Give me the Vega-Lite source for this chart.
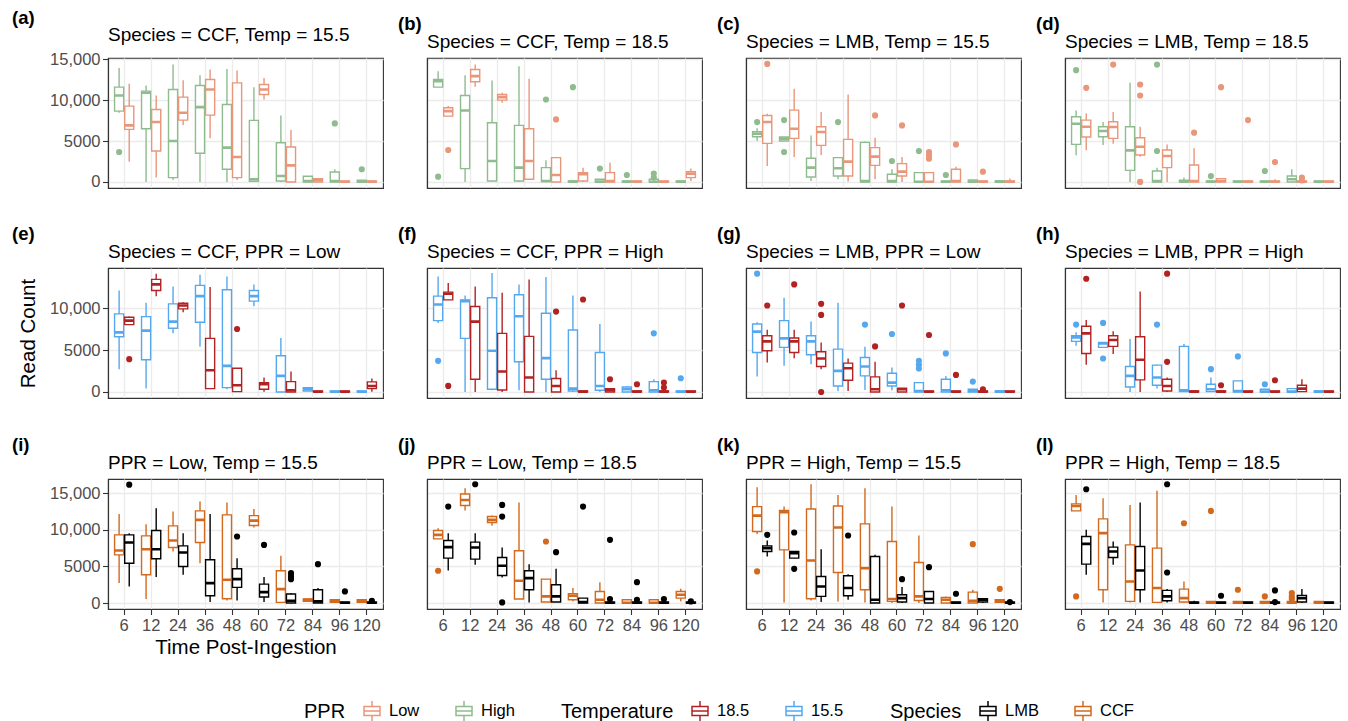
{
"$schema": "https://vega.github.io/schema/vega-lite/v6.json",
"padding": {"left": 12, "top": 8, "right": 2, "bottom": 2},
"datasets": {
"boxes": [
{"p":"a","t":6,"g":"High","lo":8450,"q1":8660,"md":10570,"q3":11590,"hi":13940},
{"p":"a","t":6,"g":"Low","lo":2480,"q1":6420,"md":6910,"q3":9270,"hi":11990},
{"p":"a","t":12,"g":"High","lo":0,"q1":6500,"md":10900,"q3":11100,"hi":11790},
{"p":"a","t":12,"g":"Low","lo":530,"q1":3780,"md":7320,"q3":8860,"hi":10570},
{"p":"a","t":24,"g":"High","lo":240,"q1":530,"md":5000,"q3":11300,"hi":14350},
{"p":"a","t":24,"g":"Low","lo":6950,"q1":7560,"md":8450,"q3":10370,"hi":12440},
{"p":"a","t":36,"g":"High","lo":0,"q1":3500,"md":9150,"q3":11790,"hi":13050},
{"p":"a","t":36,"g":"Low","lo":5330,"q1":8170,"md":11300,"q3":12520,"hi":13740},
{"p":"a","t":48,"g":"High","lo":0,"q1":1550,"md":4190,"q3":9470,"hi":13820},
{"p":"a","t":48,"g":"Low","lo":240,"q1":530,"md":3050,"q3":12110,"hi":13620},
{"p":"a","t":60,"g":"High","lo":0,"q1":80,"md":330,"q3":7520,"hi":11590},
{"p":"a","t":60,"g":"Low","lo":10080,"q1":10690,"md":11300,"q3":11910,"hi":12720},
{"p":"a","t":72,"g":"High","lo":0,"q1":120,"md":730,"q3":4800,"hi":8130},
{"p":"a","t":72,"g":"Low","lo":0,"q1":0,"md":2030,"q3":4270,"hi":6340},
{"p":"a","t":84,"g":"High","lo":0,"q1":0,"md":120,"q3":690,"hi":730},
{"p":"a","t":84,"g":"Low","lo":0,"q1":0,"md":200,"q3":410,"hi":410},
{"p":"a","t":96,"g":"High","lo":0,"q1":0,"md":120,"q3":1220,"hi":1550},
{"p":"a","t":96,"g":"Low","lo":0,"q1":0,"md":30,"q3":120,"hi":120},
{"p":"a","t":120,"g":"High","lo":0,"q1":0,"md":40,"q3":200,"hi":200},
{"p":"a","t":120,"g":"Low","lo":0,"q1":0,"md":30,"q3":120,"hi":120},
{"p":"b","t":6,"g":"High","lo":11590,"q1":11590,"md":12320,"q3":12520,"hi":13540},
{"p":"b","t":6,"g":"Low","lo":8050,"q1":8050,"md":8660,"q3":9070,"hi":9270},
{"p":"b","t":12,"g":"High","lo":0,"q1":1630,"md":8740,"q3":10570,"hi":13050},
{"p":"b","t":12,"g":"Low","lo":11630,"q1":12240,"md":12930,"q3":13740,"hi":14350},
{"p":"b","t":24,"g":"High","lo":120,"q1":120,"md":2560,"q3":7240,"hi":12400},
{"p":"b","t":24,"g":"Low","lo":9680,"q1":10000,"md":10370,"q3":10690,"hi":10890},
{"p":"b","t":36,"g":"High","lo":0,"q1":120,"md":1750,"q3":6910,"hi":14150},
{"p":"b","t":36,"g":"Low","lo":240,"q1":330,"md":2560,"q3":6500,"hi":12600},
{"p":"b","t":48,"g":"High","lo":0,"q1":40,"md":120,"q3":1750,"hi":2640},
{"p":"b","t":48,"g":"Low","lo":0,"q1":0,"md":850,"q3":2970,"hi":2970},
{"p":"b","t":60,"g":"High","lo":0,"q1":0,"md":40,"q3":120,"hi":120},
{"p":"b","t":60,"g":"Low","lo":0,"q1":120,"md":940,"q3":1140,"hi":1750},
{"p":"b","t":72,"g":"High","lo":0,"q1":0,"md":40,"q3":330,"hi":330},
{"p":"b","t":72,"g":"Low","lo":0,"q1":0,"md":120,"q3":1140,"hi":2360},
{"p":"b","t":84,"g":"High","lo":0,"q1":0,"md":30,"q3":120,"hi":120},
{"p":"b","t":84,"g":"Low","lo":0,"q1":0,"md":30,"q3":120,"hi":120},
{"p":"b","t":96,"g":"High","lo":0,"q1":0,"md":30,"q3":330,"hi":330},
{"p":"b","t":96,"g":"Low","lo":0,"q1":0,"md":30,"q3":120,"hi":120},
{"p":"b","t":120,"g":"High","lo":0,"q1":0,"md":30,"q3":120,"hi":120},
{"p":"b","t":120,"g":"Low","lo":120,"q1":530,"md":1020,"q3":1260,"hi":1630},
{"p":"c","t":6,"g":"High","lo":5000,"q1":5530,"md":5890,"q3":6140,"hi":6550},
{"p":"c","t":6,"g":"Low","lo":1950,"q1":4720,"md":7320,"q3":8130,"hi":8330},
{"p":"c","t":12,"g":"High","lo":5000,"q1":5000,"md":5290,"q3":5490,"hi":5490},
{"p":"c","t":12,"g":"Low","lo":3050,"q1":5330,"md":6500,"q3":8780,"hi":11380},
{"p":"c","t":24,"g":"High","lo":120,"q1":610,"md":1750,"q3":2890,"hi":5690},
{"p":"c","t":24,"g":"Low","lo":3290,"q1":4470,"md":6100,"q3":6750,"hi":8540},
{"p":"c","t":36,"g":"High","lo":330,"q1":730,"md":1670,"q3":2970,"hi":2970},
{"p":"c","t":36,"g":"Low","lo":40,"q1":730,"md":2480,"q3":5200,"hi":10690},
{"p":"c","t":48,"g":"High","lo":0,"q1":0,"md":100,"q3":4840,"hi":4950},
{"p":"c","t":48,"g":"Low","lo":330,"q1":2030,"md":3090,"q3":4190,"hi":5410},
{"p":"c","t":60,"g":"High","lo":0,"q1":0,"md":100,"q3":940,"hi":1550},
{"p":"c","t":60,"g":"Low","lo":0,"q1":730,"md":1260,"q3":2240,"hi":3050},
{"p":"c","t":72,"g":"High","lo":0,"q1":0,"md":30,"q3":1140,"hi":1140},
{"p":"c","t":72,"g":"Low","lo":0,"q1":0,"md":30,"q3":1140,"hi":1140},
{"p":"c","t":84,"g":"High","lo":0,"q1":0,"md":30,"q3":120,"hi":120},
{"p":"c","t":84,"g":"Low","lo":0,"q1":0,"md":120,"q3":1550,"hi":1870},
{"p":"c","t":96,"g":"High","lo":0,"q1":0,"md":40,"q3":240,"hi":240},
{"p":"c","t":96,"g":"Low","lo":0,"q1":0,"md":30,"q3":120,"hi":120},
{"p":"c","t":120,"g":"High","lo":0,"q1":0,"md":40,"q3":120,"hi":120},
{"p":"c","t":120,"g":"Low","lo":0,"q1":0,"md":30,"q3":120,"hi":410},
{"p":"d","t":6,"g":"High","lo":3250,"q1":4590,"md":7110,"q3":7970,"hi":8740},
{"p":"d","t":6,"g":"Low","lo":3860,"q1":5490,"md":6750,"q3":7560,"hi":8370},
{"p":"d","t":12,"g":"High","lo":4510,"q1":5530,"md":6220,"q3":6750,"hi":7320},
{"p":"d","t":12,"g":"Low","lo":4680,"q1":5330,"md":6710,"q3":7360,"hi":8540},
{"p":"d","t":24,"g":"High","lo":0,"q1":1420,"md":3860,"q3":6750,"hi":12110},
{"p":"d","t":24,"g":"Low","lo":3090,"q1":3290,"md":4310,"q3":5410,"hi":6750},
{"p":"d","t":36,"g":"High","lo":0,"q1":0,"md":100,"q3":1340,"hi":1750},
{"p":"d","t":36,"g":"Low","lo":0,"q1":1750,"md":3170,"q3":3900,"hi":4590},
{"p":"d","t":48,"g":"High","lo":0,"q1":0,"md":40,"q3":200,"hi":530},
{"p":"d","t":48,"g":"Low","lo":0,"q1":0,"md":120,"q3":2070,"hi":4110},
{"p":"d","t":60,"g":"High","lo":0,"q1":0,"md":30,"q3":120,"hi":120},
{"p":"d","t":60,"g":"Low","lo":0,"q1":0,"md":120,"q3":410,"hi":410},
{"p":"d","t":72,"g":"High","lo":0,"q1":0,"md":30,"q3":120,"hi":120},
{"p":"d","t":72,"g":"Low","lo":0,"q1":0,"md":30,"q3":120,"hi":120},
{"p":"d","t":84,"g":"High","lo":0,"q1":0,"md":30,"q3":120,"hi":120},
{"p":"d","t":84,"g":"Low","lo":0,"q1":0,"md":30,"q3":120,"hi":330},
{"p":"d","t":96,"g":"High","lo":0,"q1":0,"md":330,"q3":730,"hi":1550},
{"p":"d","t":96,"g":"Low","lo":0,"q1":0,"md":30,"q3":120,"hi":120},
{"p":"d","t":120,"g":"High","lo":0,"q1":0,"md":30,"q3":120,"hi":120},
{"p":"d","t":120,"g":"Low","lo":0,"q1":0,"md":30,"q3":120,"hi":120},
{"p":"e","t":6,"g":"15.5","lo":2720,"q1":6600,"md":7120,"q3":9320,"hi":12120},
{"p":"e","t":6,"g":"18.5","lo":8040,"q1":8040,"md":8520,"q3":8920,"hi":9000},
{"p":"e","t":12,"g":"15.5","lo":400,"q1":3840,"md":7320,"q3":9000,"hi":10640},
{"p":"e","t":12,"g":"18.5","lo":11440,"q1":12120,"md":12840,"q3":13440,"hi":14120},
{"p":"e","t":24,"g":"15.5","lo":7000,"q1":7600,"md":8400,"q3":10520,"hi":12600},
{"p":"e","t":24,"g":"18.5","lo":9520,"q1":9920,"md":10320,"q3":10600,"hi":10720},
{"p":"e","t":36,"g":"15.5","lo":5400,"q1":8320,"md":11440,"q3":12720,"hi":14000},
{"p":"e","t":36,"g":"18.5","lo":400,"q1":400,"md":2600,"q3":6400,"hi":12520},
{"p":"e","t":48,"g":"15.5","lo":320,"q1":520,"md":3120,"q3":12200,"hi":13800},
{"p":"e","t":48,"g":"18.5","lo":40,"q1":40,"md":800,"q3":2840,"hi":2840},
{"p":"e","t":60,"g":"15.5","lo":10240,"q1":10840,"md":11440,"q3":12120,"hi":12840},
{"p":"e","t":60,"g":"18.5","lo":40,"q1":320,"md":920,"q3":1120,"hi":1720},
{"p":"e","t":72,"g":"15.5","lo":0,"q1":0,"md":1920,"q3":4320,"hi":6440},
{"p":"e","t":72,"g":"18.5","lo":0,"q1":0,"md":200,"q3":1240,"hi":2440},
{"p":"e","t":84,"g":"15.5","lo":120,"q1":120,"md":320,"q3":520,"hi":520},
{"p":"e","t":84,"g":"18.5","lo":0,"q1":0,"md":30,"q3":120,"hi":120},
{"p":"e","t":96,"g":"15.5","lo":0,"q1":0,"md":30,"q3":120,"hi":120},
{"p":"e","t":96,"g":"18.5","lo":0,"q1":0,"md":30,"q3":120,"hi":120},
{"p":"e","t":120,"g":"15.5","lo":0,"q1":0,"md":30,"q3":120,"hi":120},
{"p":"e","t":120,"g":"18.5","lo":40,"q1":400,"md":720,"q3":1200,"hi":1600},
{"p":"f","t":6,"g":"15.5","lo":8240,"q1":8520,"md":10440,"q3":11440,"hi":13800},
{"p":"f","t":6,"g":"18.5","lo":11000,"q1":11000,"md":11720,"q3":11920,"hi":13000},
{"p":"f","t":12,"g":"15.5","lo":0,"q1":6400,"md":10840,"q3":11000,"hi":11520},
{"p":"f","t":12,"g":"18.5","lo":0,"q1":1520,"md":8400,"q3":10200,"hi":12600},
{"p":"f","t":24,"g":"15.5","lo":200,"q1":320,"md":4920,"q3":11240,"hi":14200},
{"p":"f","t":24,"g":"18.5","lo":0,"q1":240,"md":2440,"q3":7000,"hi":11840},
{"p":"f","t":36,"g":"15.5","lo":200,"q1":3600,"md":9040,"q3":11600,"hi":12840},
{"p":"f","t":36,"g":"18.5","lo":0,"q1":0,"md":1720,"q3":6640,"hi":13440},
{"p":"f","t":48,"g":"15.5","lo":0,"q1":1520,"md":4040,"q3":9400,"hi":13720},
{"p":"f","t":48,"g":"18.5","lo":0,"q1":0,"md":720,"q3":1600,"hi":2600},
{"p":"f","t":60,"g":"15.5","lo":0,"q1":120,"md":400,"q3":7400,"hi":11520},
{"p":"f","t":60,"g":"18.5","lo":0,"q1":0,"md":40,"q3":120,"hi":120},
{"p":"f","t":72,"g":"15.5","lo":0,"q1":200,"md":720,"q3":4720,"hi":8120},
{"p":"f","t":72,"g":"18.5","lo":0,"q1":0,"md":200,"q3":400,"hi":400},
{"p":"f","t":84,"g":"15.5","lo":0,"q1":0,"md":320,"q3":600,"hi":720},
{"p":"f","t":84,"g":"18.5","lo":0,"q1":0,"md":40,"q3":120,"hi":120},
{"p":"f","t":96,"g":"15.5","lo":0,"q1":0,"md":200,"q3":1240,"hi":1520},
{"p":"f","t":96,"g":"18.5","lo":0,"q1":0,"md":40,"q3":120,"hi":120},
{"p":"f","t":120,"g":"15.5","lo":0,"q1":0,"md":30,"q3":120,"hi":120},
{"p":"f","t":120,"g":"18.5","lo":0,"q1":0,"md":30,"q3":120,"hi":120},
{"p":"g","t":6,"g":"15.5","lo":1840,"q1":4720,"md":7200,"q3":8120,"hi":8320},
{"p":"g","t":6,"g":"18.5","lo":3520,"q1":4920,"md":6040,"q3":6720,"hi":7440},
{"p":"g","t":12,"g":"15.5","lo":3120,"q1":5320,"md":6400,"q3":8520,"hi":11240},
{"p":"g","t":12,"g":"18.5","lo":4040,"q1":4720,"md":6040,"q3":6440,"hi":7440},
{"p":"g","t":24,"g":"15.5","lo":3320,"q1":4440,"md":6040,"q3":6720,"hi":8400},
{"p":"g","t":24,"g":"18.5","lo":2720,"q1":3040,"md":4000,"q3":4800,"hi":5920},
{"p":"g","t":36,"g":"15.5","lo":120,"q1":720,"md":2520,"q3":5120,"hi":10640},
{"p":"g","t":36,"g":"18.5","lo":120,"q1":1400,"md":2840,"q3":3440,"hi":4000},
{"p":"g","t":48,"g":"15.5","lo":240,"q1":1920,"md":3040,"q3":4120,"hi":5400},
{"p":"g","t":48,"g":"18.5","lo":0,"q1":0,"md":320,"q3":1800,"hi":3600},
{"p":"g","t":60,"g":"15.5","lo":200,"q1":720,"md":1120,"q3":2240,"hi":2920},
{"p":"g","t":60,"g":"18.5","lo":0,"q1":0,"md":320,"q3":440,"hi":440},
{"p":"g","t":72,"g":"15.5","lo":0,"q1":0,"md":120,"q3":1120,"hi":1120},
{"p":"g","t":72,"g":"18.5","lo":0,"q1":0,"md":30,"q3":120,"hi":120},
{"p":"g","t":84,"g":"15.5","lo":0,"q1":0,"md":200,"q3":1520,"hi":1920},
{"p":"g","t":84,"g":"18.5","lo":0,"q1":0,"md":30,"q3":120,"hi":120},
{"p":"g","t":96,"g":"15.5","lo":0,"q1":0,"md":120,"q3":320,"hi":320},
{"p":"g","t":96,"g":"18.5","lo":0,"q1":0,"md":30,"q3":120,"hi":120},
{"p":"g","t":120,"g":"15.5","lo":0,"q1":0,"md":40,"q3":120,"hi":120},
{"p":"g","t":120,"g":"18.5","lo":0,"q1":0,"md":30,"q3":120,"hi":120},
{"p":"h","t":6,"g":"15.5","lo":5520,"q1":6040,"md":6520,"q3":6720,"hi":7120},
{"p":"h","t":6,"g":"18.5","lo":3240,"q1":4600,"md":7000,"q3":7840,"hi":8600},
{"p":"h","t":12,"g":"15.5","lo":5320,"q1":5320,"md":5800,"q3":5920,"hi":5920},
{"p":"h","t":12,"g":"18.5","lo":4520,"q1":5440,"md":6200,"q3":6720,"hi":7240},
{"p":"h","t":24,"g":"15.5","lo":0,"q1":600,"md":1920,"q3":3040,"hi":6320},
{"p":"h","t":24,"g":"18.5","lo":0,"q1":1440,"md":3840,"q3":6600,"hi":12000},
{"p":"h","t":36,"g":"15.5","lo":400,"q1":800,"md":1720,"q3":3200,"hi":3240},
{"p":"h","t":36,"g":"18.5","lo":0,"q1":120,"md":720,"q3":1520,"hi":1720},
{"p":"h","t":48,"g":"15.5","lo":0,"q1":40,"md":200,"q3":5440,"hi":5720},
{"p":"h","t":48,"g":"18.5","lo":0,"q1":0,"md":40,"q3":120,"hi":200},
{"p":"h","t":60,"g":"15.5","lo":0,"q1":40,"md":320,"q3":920,"hi":1720},
{"p":"h","t":60,"g":"18.5","lo":0,"q1":0,"md":40,"q3":120,"hi":120},
{"p":"h","t":72,"g":"15.5","lo":0,"q1":0,"md":120,"q3":1320,"hi":1320},
{"p":"h","t":72,"g":"18.5","lo":0,"q1":0,"md":30,"q3":120,"hi":120},
{"p":"h","t":84,"g":"15.5","lo":0,"q1":0,"md":40,"q3":320,"hi":320},
{"p":"h","t":84,"g":"18.5","lo":0,"q1":0,"md":30,"q3":120,"hi":120},
{"p":"h","t":96,"g":"15.5","lo":0,"q1":0,"md":40,"q3":400,"hi":400},
{"p":"h","t":96,"g":"18.5","lo":0,"q1":40,"md":400,"q3":800,"hi":1520},
{"p":"h","t":120,"g":"15.5","lo":0,"q1":0,"md":40,"q3":120,"hi":120},
{"p":"h","t":120,"g":"18.5","lo":0,"q1":0,"md":30,"q3":120,"hi":120},
{"p":"i","t":6,"g":"CCF","lo":2730,"q1":6590,"md":7180,"q3":9320,"hi":12180},
{"p":"i","t":6,"g":"LMB","lo":2270,"q1":5450,"md":8270,"q3":9320,"hi":9550},
{"p":"i","t":12,"g":"CCF","lo":550,"q1":3860,"md":7360,"q3":9180,"hi":10770},
{"p":"i","t":12,"g":"LMB","lo":3550,"q1":6050,"md":7360,"q3":9910,"hi":12950},
{"p":"i","t":24,"g":"CCF","lo":7050,"q1":7590,"md":8550,"q3":10550,"hi":12500},
{"p":"i","t":24,"g":"LMB","lo":3860,"q1":5000,"md":6910,"q3":7820,"hi":9550},
{"p":"i","t":36,"g":"CCF","lo":5450,"q1":8270,"md":11360,"q3":12590,"hi":13860},
{"p":"i","t":36,"g":"LMB","lo":140,"q1":1000,"md":2730,"q3":5910,"hi":12180},
{"p":"i","t":48,"g":"CCF","lo":360,"q1":590,"md":3180,"q3":12050,"hi":13730},
{"p":"i","t":48,"g":"LMB","lo":360,"q1":2140,"md":3270,"q3":4680,"hi":6140},
{"p":"i","t":60,"g":"CCF","lo":10320,"q1":10590,"md":11270,"q3":11950,"hi":12860},
{"p":"i","t":60,"g":"LMB","lo":140,"q1":820,"md":1500,"q3":2590,"hi":3550},
{"p":"i","t":72,"g":"CCF","lo":90,"q1":90,"md":1910,"q3":4410,"hi":6450},
{"p":"i","t":72,"g":"LMB","lo":0,"q1":0,"md":320,"q3":1230,"hi":1360},
{"p":"i","t":84,"g":"CCF","lo":230,"q1":230,"md":450,"q3":550,"hi":550},
{"p":"i","t":84,"g":"LMB","lo":0,"q1":0,"md":230,"q3":1820,"hi":2050},
{"p":"i","t":96,"g":"CCF","lo":0,"q1":90,"md":230,"q3":450,"hi":450},
{"p":"i","t":96,"g":"LMB","lo":0,"q1":0,"md":50,"q3":140,"hi":140},
{"p":"i","t":120,"g":"CCF","lo":0,"q1":90,"md":230,"q3":450,"hi":450},
{"p":"i","t":120,"g":"LMB","lo":0,"q1":0,"md":50,"q3":140,"hi":140},
{"p":"j","t":6,"g":"CCF","lo":8770,"q1":8770,"md":9320,"q3":9910,"hi":10230},
{"p":"j","t":6,"g":"LMB","lo":4450,"q1":6140,"md":7640,"q3":8550,"hi":9550},
{"p":"j","t":12,"g":"CCF","lo":12640,"q1":13320,"md":14090,"q3":14910,"hi":15680},
{"p":"j","t":12,"g":"LMB","lo":5230,"q1":6000,"md":7590,"q3":8320,"hi":9550},
{"p":"j","t":24,"g":"CCF","lo":10550,"q1":11000,"md":11360,"q3":11820,"hi":11950},
{"p":"j","t":24,"g":"LMB","lo":3500,"q1":3770,"md":5090,"q3":6230,"hi":7590},
{"p":"j","t":36,"g":"CCF","lo":550,"q1":550,"md":3050,"q3":7140,"hi":13730},
{"p":"j","t":36,"g":"LMB","lo":90,"q1":1820,"md":3410,"q3":4410,"hi":5320},
{"p":"j","t":48,"g":"CCF","lo":140,"q1":140,"md":910,"q3":3270,"hi":3270},
{"p":"j","t":48,"g":"LMB","lo":140,"q1":140,"md":910,"q3":2500,"hi":4680},
{"p":"j","t":60,"g":"CCF","lo":230,"q1":450,"md":1000,"q3":1270,"hi":2050},
{"p":"j","t":60,"g":"LMB","lo":0,"q1":0,"md":140,"q3":680,"hi":680},
{"p":"j","t":72,"g":"CCF","lo":0,"q1":0,"md":450,"q3":1590,"hi":2860},
{"p":"j","t":72,"g":"LMB","lo":0,"q1":0,"md":50,"q3":140,"hi":140},
{"p":"j","t":84,"g":"CCF","lo":0,"q1":0,"md":50,"q3":450,"hi":450},
{"p":"j","t":84,"g":"LMB","lo":0,"q1":0,"md":50,"q3":140,"hi":140},
{"p":"j","t":96,"g":"CCF","lo":0,"q1":0,"md":50,"q3":450,"hi":450},
{"p":"j","t":96,"g":"LMB","lo":0,"q1":0,"md":50,"q3":140,"hi":140},
{"p":"j","t":120,"g":"CCF","lo":230,"q1":680,"md":1140,"q3":1590,"hi":1950},
{"p":"j","t":120,"g":"LMB","lo":0,"q1":0,"md":50,"q3":140,"hi":140},
{"p":"k","t":6,"g":"CCF","lo":9450,"q1":9770,"md":11950,"q3":13180,"hi":15820},
{"p":"k","t":6,"g":"LMB","lo":6360,"q1":7050,"md":7500,"q3":7820,"hi":8550},
{"p":"k","t":12,"g":"CCF","lo":90,"q1":7270,"md":12410,"q3":12640,"hi":13180},
{"p":"k","t":12,"g":"LMB","lo":6140,"q1":6140,"md":6820,"q3":7050,"hi":7050},
{"p":"k","t":24,"g":"CCF","lo":360,"q1":590,"md":5820,"q3":12860,"hi":16230},
{"p":"k","t":24,"g":"LMB","lo":140,"q1":910,"md":2270,"q3":3640,"hi":7360},
{"p":"k","t":36,"g":"CCF","lo":230,"q1":4180,"md":10320,"q3":13270,"hi":14770},
{"p":"k","t":36,"g":"LMB","lo":450,"q1":1000,"md":2050,"q3":3730,"hi":3950},
{"p":"k","t":48,"g":"CCF","lo":90,"q1":1820,"md":4770,"q3":10820,"hi":15680},
{"p":"k","t":48,"g":"LMB","lo":0,"q1":0,"md":450,"q3":6360,"hi":6590},
{"p":"k","t":60,"g":"CCF","lo":0,"q1":230,"md":550,"q3":8410,"hi":13180},
{"p":"k","t":60,"g":"LMB","lo":0,"q1":140,"md":680,"q3":1140,"hi":2180},
{"p":"k","t":72,"g":"CCF","lo":0,"q1":360,"md":910,"q3":5550,"hi":9230},
{"p":"k","t":72,"g":"LMB","lo":0,"q1":0,"md":550,"q3":1590,"hi":1590},
{"p":"k","t":84,"g":"CCF","lo":0,"q1":0,"md":450,"q3":770,"hi":910},
{"p":"k","t":84,"g":"LMB","lo":0,"q1":0,"md":50,"q3":140,"hi":140},
{"p":"k","t":96,"g":"CCF","lo":0,"q1":0,"md":320,"q3":1500,"hi":1820},
{"p":"k","t":96,"g":"LMB","lo":0,"q1":140,"md":450,"q3":590,"hi":590},
{"p":"k","t":120,"g":"CCF","lo":0,"q1":90,"md":230,"q3":450,"hi":450},
{"p":"k","t":120,"g":"LMB","lo":0,"q1":0,"md":50,"q3":140,"hi":140},
{"p":"l","t":6,"g":"CCF","lo":12590,"q1":12590,"md":13270,"q3":13550,"hi":14770},
{"p":"l","t":6,"g":"LMB","lo":3860,"q1":5320,"md":8090,"q3":9090,"hi":10000},
{"p":"l","t":12,"g":"CCF","lo":90,"q1":1820,"md":9550,"q3":11500,"hi":14320},
{"p":"l","t":12,"g":"LMB","lo":5230,"q1":6230,"md":7050,"q3":7640,"hi":8410},
{"p":"l","t":24,"g":"CCF","lo":90,"q1":230,"md":2950,"q3":7950,"hi":13410},
{"p":"l","t":24,"g":"LMB","lo":90,"q1":1820,"md":4450,"q3":7730,"hi":13730},
{"p":"l","t":36,"g":"CCF","lo":0,"q1":90,"md":2050,"q3":7500,"hi":15360},
{"p":"l","t":36,"g":"LMB","lo":90,"q1":320,"md":910,"q3":1730,"hi":1910},
{"p":"l","t":48,"g":"CCF","lo":0,"q1":140,"md":680,"q3":1910,"hi":2950},
{"p":"l","t":48,"g":"LMB","lo":0,"q1":0,"md":50,"q3":140,"hi":320},
{"p":"l","t":60,"g":"CCF","lo":0,"q1":0,"md":50,"q3":230,"hi":230},
{"p":"l","t":60,"g":"LMB","lo":0,"q1":0,"md":50,"q3":140,"hi":140},
{"p":"l","t":72,"g":"CCF","lo":0,"q1":0,"md":50,"q3":230,"hi":230},
{"p":"l","t":72,"g":"LMB","lo":0,"q1":0,"md":50,"q3":140,"hi":140},
{"p":"l","t":84,"g":"CCF","lo":0,"q1":0,"md":50,"q3":230,"hi":230},
{"p":"l","t":84,"g":"LMB","lo":0,"q1":0,"md":50,"q3":140,"hi":140},
{"p":"l","t":96,"g":"CCF","lo":0,"q1":0,"md":50,"q3":230,"hi":230},
{"p":"l","t":96,"g":"LMB","lo":0,"q1":140,"md":680,"q3":1050,"hi":1910},
{"p":"l","t":120,"g":"CCF","lo":0,"q1":0,"md":50,"q3":230,"hi":230},
{"p":"l","t":120,"g":"LMB","lo":0,"q1":0,"md":50,"q3":140,"hi":140}
],
"outliers": [
{"p":"a","t":6,"g":"High","v":3660},{"p":"a","t":96,"g":"High","v":7150},{"p":"a","t":120,"g":"High","v":1550},
{"p":"b","t":6,"g":"High","v":650},{"p":"b","t":6,"g":"Low","v":3900},{"p":"b","t":48,"g":"High","v":10080},{"p":"b","t":48,"g":"Low","v":7640},{"p":"b","t":60,"g":"High","v":11590},{"p":"b","t":72,"g":"High","v":1630},{"p":"b","t":84,"g":"High","v":850},{"p":"b","t":96,"g":"High","v":1020},{"p":"b","t":96,"g":"High","v":530},
{"p":"c","t":6,"g":"High","v":7320},{"p":"c","t":6,"g":"Low","v":14430},{"p":"c","t":12,"g":"High","v":7560},{"p":"c","t":12,"g":"High","v":3660},{"p":"c","t":36,"g":"High","v":7320},{"p":"c","t":48,"g":"Low","v":8130},{"p":"c","t":60,"g":"High","v":2560},{"p":"c","t":60,"g":"Low","v":6910},{"p":"c","t":72,"g":"High","v":3780},{"p":"c","t":72,"g":"Low","v":3660},{"p":"c","t":72,"g":"Low","v":3250},{"p":"c","t":72,"g":"Low","v":2850},{"p":"c","t":84,"g":"High","v":850},{"p":"c","t":84,"g":"Low","v":4590},{"p":"c","t":96,"g":"Low","v":1260},
{"p":"d","t":6,"g":"High","v":13660},{"p":"d","t":6,"g":"Low","v":11500},{"p":"d","t":12,"g":"Low","v":14350},{"p":"d","t":24,"g":"Low","v":11910},{"p":"d","t":24,"g":"Low","v":10570},{"p":"d","t":24,"g":"Low","v":0},{"p":"d","t":36,"g":"High","v":14350},{"p":"d","t":36,"g":"High","v":3780},{"p":"d","t":48,"g":"Low","v":6020},{"p":"d","t":60,"g":"High","v":730},{"p":"d","t":60,"g":"Low","v":11590},{"p":"d","t":72,"g":"Low","v":7560},{"p":"d","t":84,"g":"High","v":1340},{"p":"d","t":84,"g":"Low","v":2440},{"p":"d","t":96,"g":"Low","v":530},{"p":"d","t":96,"g":"Low","v":200},
{"p":"e","t":6,"g":"18.5","v":3920},{"p":"e","t":48,"g":"18.5","v":7520},
{"p":"f","t":6,"g":"15.5","v":3720},{"p":"f","t":6,"g":"18.5","v":720},{"p":"f","t":48,"g":"18.5","v":9600},{"p":"f","t":60,"g":"18.5","v":11040},{"p":"f","t":72,"g":"18.5","v":1520},{"p":"f","t":84,"g":"18.5","v":920},{"p":"f","t":96,"g":"15.5","v":7000},{"p":"f","t":96,"g":"18.5","v":1120},{"p":"f","t":96,"g":"18.5","v":520},{"p":"f","t":120,"g":"15.5","v":1640},
{"p":"g","t":6,"g":"15.5","v":14120},{"p":"g","t":6,"g":"18.5","v":10320},{"p":"g","t":12,"g":"18.5","v":12840},{"p":"g","t":24,"g":"18.5","v":10520},{"p":"g","t":24,"g":"18.5","v":9200},{"p":"g","t":24,"g":"18.5","v":0},{"p":"g","t":48,"g":"15.5","v":8040},{"p":"g","t":48,"g":"18.5","v":5440},{"p":"g","t":60,"g":"15.5","v":6920},{"p":"g","t":60,"g":"18.5","v":10320},{"p":"g","t":72,"g":"15.5","v":3720},{"p":"g","t":72,"g":"15.5","v":3240},{"p":"g","t":72,"g":"15.5","v":2800},{"p":"g","t":72,"g":"18.5","v":6800},{"p":"g","t":84,"g":"15.5","v":4600},{"p":"g","t":84,"g":"18.5","v":2040},{"p":"g","t":96,"g":"15.5","v":1240},{"p":"g","t":96,"g":"18.5","v":320},
{"p":"h","t":6,"g":"15.5","v":8040},{"p":"h","t":6,"g":"18.5","v":13520},{"p":"h","t":12,"g":"15.5","v":8240},{"p":"h","t":12,"g":"15.5","v":4000},{"p":"h","t":36,"g":"15.5","v":8040},{"p":"h","t":36,"g":"18.5","v":14120},{"p":"h","t":36,"g":"18.5","v":3600},{"p":"h","t":60,"g":"15.5","v":2720},{"p":"h","t":60,"g":"18.5","v":800},{"p":"h","t":72,"g":"15.5","v":4240},{"p":"h","t":84,"g":"15.5","v":920},{"p":"h","t":84,"g":"18.5","v":1400},
{"p":"i","t":6,"g":"LMB","v":16180},{"p":"i","t":48,"g":"LMB","v":9090},{"p":"i","t":60,"g":"LMB","v":7950},{"p":"i","t":72,"g":"LMB","v":4090},{"p":"i","t":72,"g":"LMB","v":3640},{"p":"i","t":72,"g":"LMB","v":3270},{"p":"i","t":84,"g":"LMB","v":5320},{"p":"i","t":96,"g":"LMB","v":1590},{"p":"i","t":120,"g":"LMB","v":320},
{"p":"j","t":6,"g":"CCF","v":4410},{"p":"j","t":6,"g":"LMB","v":13180},{"p":"j","t":12,"g":"LMB","v":16230},{"p":"j","t":24,"g":"LMB","v":13410},{"p":"j","t":24,"g":"LMB","v":11820},{"p":"j","t":24,"g":"LMB","v":90},{"p":"j","t":48,"g":"CCF","v":8410},{"p":"j","t":48,"g":"LMB","v":6950},{"p":"j","t":60,"g":"LMB","v":13180},{"p":"j","t":72,"g":"LMB","v":8640},{"p":"j","t":72,"g":"LMB","v":550},{"p":"j","t":84,"g":"LMB","v":2860},{"p":"j","t":84,"g":"LMB","v":450},{"p":"j","t":96,"g":"LMB","v":550},{"p":"j","t":120,"g":"LMB","v":230},
{"p":"k","t":6,"g":"CCF","v":4320},{"p":"k","t":6,"g":"LMB","v":9320},{"p":"k","t":12,"g":"LMB","v":9640},{"p":"k","t":12,"g":"LMB","v":4680},{"p":"k","t":36,"g":"LMB","v":9230},{"p":"k","t":60,"g":"LMB","v":3270},{"p":"k","t":72,"g":"LMB","v":4910},{"p":"k","t":84,"g":"LMB","v":1270},{"p":"k","t":96,"g":"CCF","v":8050},{"p":"k","t":120,"g":"CCF","v":1950},{"p":"k","t":120,"g":"LMB","v":140},
{"p":"l","t":6,"g":"CCF","v":910},{"p":"l","t":6,"g":"LMB","v":15550},{"p":"l","t":36,"g":"LMB","v":16230},{"p":"l","t":36,"g":"LMB","v":4180},{"p":"l","t":48,"g":"CCF","v":10910},{"p":"l","t":60,"g":"CCF","v":12590},{"p":"l","t":60,"g":"LMB","v":1000},{"p":"l","t":72,"g":"CCF","v":1820},{"p":"l","t":84,"g":"CCF","v":910},{"p":"l","t":84,"g":"LMB","v":1730},{"p":"l","t":84,"g":"LMB","v":140},{"p":"l","t":96,"g":"CCF","v":1360},{"p":"l","t":96,"g":"CCF","v":910},{"p":"l","t":96,"g":"CCF","v":550}
]
},
"spacing": 34,
"resolve": {"scale": {"color": "independent", "stroke": "independent", "xOffset": "independent"}},
"vconcat": [
{"spacing": 14, "hconcat": [
{"title": {"text": "(a)", "anchor": "start", "frame": "group", "dx": -96, "offset": -17, "fontWeight": "bold", "fontSize": 18.5, "baseline": "alphabetic"},
 "hconcat": [{"width": 275, "height": 130, "title": {"text": "Species = CCF, Temp = 15.5"},
  "data": {"name": "boxes"}, "transform": [{"filter": "datum.p === 'a'"}],
  "encoding": {"x": {"field": "t", "type": "ordinal", "scale": {"type": "band", "domain": [6,12,24,36,48,60,72,84,96,120], "paddingInner": 0.25, "paddingOuter": 0.225}, "axis": {"labels": false, "ticks": false, "title": null, "grid": true, "bandPosition": 0.5, "gridWidth": 1.3}},
   "xOffset": {"field": "g", "type": "nominal", "scale": {"type": "band", "domain": ["High","Low"], "paddingInner": 0.1, "paddingOuter": 0.05}}},
  "layer": [
   {"mark": {"type": "rule", "strokeWidth": 1.4}, "encoding": {"y": {"field": "lo", "type": "quantitative", "title": null, "scale": {"domain": [-740, 15150], "nice": false, "zero": false}, "axis": {"values": [0,2500,5000,7500,10000,12500,15000], "labelExpr": "datum.value % 5000 === 0 ? (datum.value >= 10000 ? format(datum.value, ',') : format(datum.value, 'd')) : ''", "tickOpacity": {"condition": {"test": "datum.value % 5000 === 0", "value": 1}, "value": 0}, "gridWidth": {"condition": {"test": "datum.value % 5000 === 0", "value": 1.3}, "value": 0.7}}}, "y2": {"field": "hi"}, "stroke": {"field": "g", "type": "nominal", "scale": {"domain": ["Low","High"], "range": ["#E9967A","#8FBC8F"]}, "legend": null}}},
   {"mark": {"type": "bar", "fill": "white", "strokeWidth": 1.4}, "encoding": {"y": {"field": "q1", "type": "quantitative", "title": null}, "y2": {"field": "q3"}, "stroke": {"field": "g", "type": "nominal", "legend": null}}},
   {"mark": {"type": "bar", "fill": "white", "strokeWidth": 2.6}, "encoding": {"y": {"field": "md", "type": "quantitative", "title": null}, "y2": {"field": "md"}, "stroke": {"field": "g", "type": "nominal", "legend": null}}},
   {"data": {"name": "outliers"}, "transform": [{"filter": "datum.p === 'a'"}], "mark": {"type": "point", "filled": true, "size": 38, "opacity": 1}, "encoding": {"y": {"field": "v", "type": "quantitative", "title": null}, "color": {"field": "g", "type": "nominal", "scale": {"domain": ["Low","High"], "range": ["#E9967A","#8FBC8F"]}, "legend": null}}}
  ]}]},
{"title": {"text": "(b)", "anchor": "start", "frame": "group", "dx": -29, "offset": -17, "fontWeight": "bold", "fontSize": 18.5, "baseline": "alphabetic"},
 "hconcat": [{"width": 275, "height": 130, "title": {"text": "Species = CCF, Temp = 18.5"},
  "data": {"name": "boxes"}, "transform": [{"filter": "datum.p === 'b'"}],
  "encoding": {"x": {"field": "t", "type": "ordinal", "scale": {"type": "band", "domain": [6,12,24,36,48,60,72,84,96,120], "paddingInner": 0.25, "paddingOuter": 0.225}, "axis": {"labels": false, "ticks": false, "title": null, "grid": true, "bandPosition": 0.5, "gridWidth": 1.3}},
   "xOffset": {"field": "g", "type": "nominal", "scale": {"type": "band", "domain": ["High","Low"], "paddingInner": 0.1, "paddingOuter": 0.05}}},
  "layer": [
   {"mark": {"type": "rule", "strokeWidth": 1.4}, "encoding": {"y": {"field": "lo", "type": "quantitative", "title": null, "scale": {"domain": [-740, 15150], "nice": false, "zero": false}, "axis": {"values": [0,2500,5000,7500,10000,12500,15000], "labels": false, "ticks": false, "gridWidth": {"condition": {"test": "datum.value % 5000 === 0", "value": 1.3}, "value": 0.7}}}, "y2": {"field": "hi"}, "stroke": {"field": "g", "type": "nominal", "scale": {"domain": ["Low","High"], "range": ["#E9967A","#8FBC8F"]}, "legend": null}}},
   {"mark": {"type": "bar", "fill": "white", "strokeWidth": 1.4}, "encoding": {"y": {"field": "q1", "type": "quantitative", "title": null}, "y2": {"field": "q3"}, "stroke": {"field": "g", "type": "nominal", "legend": null}}},
   {"mark": {"type": "bar", "fill": "white", "strokeWidth": 2.6}, "encoding": {"y": {"field": "md", "type": "quantitative", "title": null}, "y2": {"field": "md"}, "stroke": {"field": "g", "type": "nominal", "legend": null}}},
   {"data": {"name": "outliers"}, "transform": [{"filter": "datum.p === 'b'"}], "mark": {"type": "point", "filled": true, "size": 38, "opacity": 1}, "encoding": {"y": {"field": "v", "type": "quantitative", "title": null}, "color": {"field": "g", "type": "nominal", "scale": {"domain": ["Low","High"], "range": ["#E9967A","#8FBC8F"]}, "legend": null}}}
  ]}]},
{"title": {"text": "(c)", "anchor": "start", "frame": "group", "dx": -29, "offset": -17, "fontWeight": "bold", "fontSize": 18.5, "baseline": "alphabetic"},
 "hconcat": [{"width": 275, "height": 130, "title": {"text": "Species = LMB, Temp = 15.5"},
  "data": {"name": "boxes"}, "transform": [{"filter": "datum.p === 'c'"}],
  "encoding": {"x": {"field": "t", "type": "ordinal", "scale": {"type": "band", "domain": [6,12,24,36,48,60,72,84,96,120], "paddingInner": 0.25, "paddingOuter": 0.225}, "axis": {"labels": false, "ticks": false, "title": null, "grid": true, "bandPosition": 0.5, "gridWidth": 1.3}},
   "xOffset": {"field": "g", "type": "nominal", "scale": {"type": "band", "domain": ["High","Low"], "paddingInner": 0.1, "paddingOuter": 0.05}}},
  "layer": [
   {"mark": {"type": "rule", "strokeWidth": 1.4}, "encoding": {"y": {"field": "lo", "type": "quantitative", "title": null, "scale": {"domain": [-740, 15150], "nice": false, "zero": false}, "axis": {"values": [0,2500,5000,7500,10000,12500,15000], "labels": false, "ticks": false, "gridWidth": {"condition": {"test": "datum.value % 5000 === 0", "value": 1.3}, "value": 0.7}}}, "y2": {"field": "hi"}, "stroke": {"field": "g", "type": "nominal", "scale": {"domain": ["Low","High"], "range": ["#E9967A","#8FBC8F"]}, "legend": null}}},
   {"mark": {"type": "bar", "fill": "white", "strokeWidth": 1.4}, "encoding": {"y": {"field": "q1", "type": "quantitative", "title": null}, "y2": {"field": "q3"}, "stroke": {"field": "g", "type": "nominal", "legend": null}}},
   {"mark": {"type": "bar", "fill": "white", "strokeWidth": 2.6}, "encoding": {"y": {"field": "md", "type": "quantitative", "title": null}, "y2": {"field": "md"}, "stroke": {"field": "g", "type": "nominal", "legend": null}}},
   {"data": {"name": "outliers"}, "transform": [{"filter": "datum.p === 'c'"}], "mark": {"type": "point", "filled": true, "size": 38, "opacity": 1}, "encoding": {"y": {"field": "v", "type": "quantitative", "title": null}, "color": {"field": "g", "type": "nominal", "scale": {"domain": ["Low","High"], "range": ["#E9967A","#8FBC8F"]}, "legend": null}}}
  ]}]},
{"title": {"text": "(d)", "anchor": "start", "frame": "group", "dx": -29, "offset": -17, "fontWeight": "bold", "fontSize": 18.5, "baseline": "alphabetic"},
 "hconcat": [{"width": 275, "height": 130, "title": {"text": "Species = LMB, Temp = 18.5"},
  "data": {"name": "boxes"}, "transform": [{"filter": "datum.p === 'd'"}],
  "encoding": {"x": {"field": "t", "type": "ordinal", "scale": {"type": "band", "domain": [6,12,24,36,48,60,72,84,96,120], "paddingInner": 0.25, "paddingOuter": 0.225}, "axis": {"labels": false, "ticks": false, "title": null, "grid": true, "bandPosition": 0.5, "gridWidth": 1.3}},
   "xOffset": {"field": "g", "type": "nominal", "scale": {"type": "band", "domain": ["High","Low"], "paddingInner": 0.1, "paddingOuter": 0.05}}},
  "layer": [
   {"mark": {"type": "rule", "strokeWidth": 1.4}, "encoding": {"y": {"field": "lo", "type": "quantitative", "title": null, "scale": {"domain": [-740, 15150], "nice": false, "zero": false}, "axis": {"values": [0,2500,5000,7500,10000,12500,15000], "labels": false, "ticks": false, "gridWidth": {"condition": {"test": "datum.value % 5000 === 0", "value": 1.3}, "value": 0.7}}}, "y2": {"field": "hi"}, "stroke": {"field": "g", "type": "nominal", "scale": {"domain": ["Low","High"], "range": ["#E9967A","#8FBC8F"]}, "legend": null}}},
   {"mark": {"type": "bar", "fill": "white", "strokeWidth": 1.4}, "encoding": {"y": {"field": "q1", "type": "quantitative", "title": null}, "y2": {"field": "q3"}, "stroke": {"field": "g", "type": "nominal", "legend": null}}},
   {"mark": {"type": "bar", "fill": "white", "strokeWidth": 2.6}, "encoding": {"y": {"field": "md", "type": "quantitative", "title": null}, "y2": {"field": "md"}, "stroke": {"field": "g", "type": "nominal", "legend": null}}},
   {"data": {"name": "outliers"}, "transform": [{"filter": "datum.p === 'd'"}], "mark": {"type": "point", "filled": true, "size": 38, "opacity": 1}, "encoding": {"y": {"field": "v", "type": "quantitative", "title": null}, "color": {"field": "g", "type": "nominal", "scale": {"domain": ["Low","High"], "range": ["#E9967A","#8FBC8F"]}, "legend": null}}}
  ]}]}
]},
{"spacing": 14, "hconcat": [
{"title": {"text": "(e)", "anchor": "start", "frame": "group", "dx": -96, "offset": -17, "fontWeight": "bold", "fontSize": 18.5, "baseline": "alphabetic"},
 "hconcat": [{"width": 275, "height": 130, "title": {"text": "Species = CCF, PPR = Low"},
  "data": {"name": "boxes"}, "transform": [{"filter": "datum.p === 'e'"}],
  "encoding": {"x": {"field": "t", "type": "ordinal", "scale": {"type": "band", "domain": [6,12,24,36,48,60,72,84,96,120], "paddingInner": 0.25, "paddingOuter": 0.225}, "axis": {"labels": false, "ticks": false, "title": null, "grid": true, "bandPosition": 0.5, "gridWidth": 1.3}},
   "xOffset": {"field": "g", "type": "nominal", "scale": {"type": "band", "domain": ["15.5","18.5"], "paddingInner": 0.1, "paddingOuter": 0.05}}},
  "layer": [
   {"mark": {"type": "rule", "strokeWidth": 1.4}, "encoding": {"y": {"field": "lo", "type": "quantitative", "title": "Read Count", "scale": {"domain": [-720, 14800], "nice": false, "zero": false}, "axis": {"values": [0,2500,5000,7500,10000,12500], "labelExpr": "datum.value % 5000 === 0 ? (datum.value >= 10000 ? format(datum.value, ',') : format(datum.value, 'd')) : ''", "tickOpacity": {"condition": {"test": "datum.value % 5000 === 0", "value": 1}, "value": 0}, "gridWidth": {"condition": {"test": "datum.value % 5000 === 0", "value": 1.3}, "value": 0.7}, "titlePadding": 11}}, "y2": {"field": "hi"}, "stroke": {"field": "g", "type": "nominal", "scale": {"domain": ["18.5","15.5"], "range": ["#B22222","#56A8EE"]}, "legend": null}}},
   {"mark": {"type": "bar", "fill": "white", "strokeWidth": 1.4}, "encoding": {"y": {"field": "q1", "type": "quantitative", "title": "Read Count"}, "y2": {"field": "q3"}, "stroke": {"field": "g", "type": "nominal", "legend": null}}},
   {"mark": {"type": "bar", "fill": "white", "strokeWidth": 2.6}, "encoding": {"y": {"field": "md", "type": "quantitative", "title": "Read Count"}, "y2": {"field": "md"}, "stroke": {"field": "g", "type": "nominal", "legend": null}}},
   {"data": {"name": "outliers"}, "transform": [{"filter": "datum.p === 'e'"}], "mark": {"type": "point", "filled": true, "size": 38, "opacity": 1}, "encoding": {"y": {"field": "v", "type": "quantitative", "title": "Read Count"}, "color": {"field": "g", "type": "nominal", "scale": {"domain": ["18.5","15.5"], "range": ["#B22222","#56A8EE"]}, "legend": null}}}
  ]}]},
{"title": {"text": "(f)", "anchor": "start", "frame": "group", "dx": -29, "offset": -17, "fontWeight": "bold", "fontSize": 18.5, "baseline": "alphabetic"},
 "hconcat": [{"width": 275, "height": 130, "title": {"text": "Species = CCF, PPR = High"},
  "data": {"name": "boxes"}, "transform": [{"filter": "datum.p === 'f'"}],
  "encoding": {"x": {"field": "t", "type": "ordinal", "scale": {"type": "band", "domain": [6,12,24,36,48,60,72,84,96,120], "paddingInner": 0.25, "paddingOuter": 0.225}, "axis": {"labels": false, "ticks": false, "title": null, "grid": true, "bandPosition": 0.5, "gridWidth": 1.3}},
   "xOffset": {"field": "g", "type": "nominal", "scale": {"type": "band", "domain": ["15.5","18.5"], "paddingInner": 0.1, "paddingOuter": 0.05}}},
  "layer": [
   {"mark": {"type": "rule", "strokeWidth": 1.4}, "encoding": {"y": {"field": "lo", "type": "quantitative", "title": null, "scale": {"domain": [-720, 14800], "nice": false, "zero": false}, "axis": {"values": [0,2500,5000,7500,10000,12500], "labels": false, "ticks": false, "gridWidth": {"condition": {"test": "datum.value % 5000 === 0", "value": 1.3}, "value": 0.7}}}, "y2": {"field": "hi"}, "stroke": {"field": "g", "type": "nominal", "scale": {"domain": ["18.5","15.5"], "range": ["#B22222","#56A8EE"]}, "legend": null}}},
   {"mark": {"type": "bar", "fill": "white", "strokeWidth": 1.4}, "encoding": {"y": {"field": "q1", "type": "quantitative", "title": null}, "y2": {"field": "q3"}, "stroke": {"field": "g", "type": "nominal", "legend": null}}},
   {"mark": {"type": "bar", "fill": "white", "strokeWidth": 2.6}, "encoding": {"y": {"field": "md", "type": "quantitative", "title": null}, "y2": {"field": "md"}, "stroke": {"field": "g", "type": "nominal", "legend": null}}},
   {"data": {"name": "outliers"}, "transform": [{"filter": "datum.p === 'f'"}], "mark": {"type": "point", "filled": true, "size": 38, "opacity": 1}, "encoding": {"y": {"field": "v", "type": "quantitative", "title": null}, "color": {"field": "g", "type": "nominal", "scale": {"domain": ["18.5","15.5"], "range": ["#B22222","#56A8EE"]}, "legend": null}}}
  ]}]},
{"title": {"text": "(g)", "anchor": "start", "frame": "group", "dx": -29, "offset": -17, "fontWeight": "bold", "fontSize": 18.5, "baseline": "alphabetic"},
 "hconcat": [{"width": 275, "height": 130, "title": {"text": "Species = LMB, PPR = Low"},
  "data": {"name": "boxes"}, "transform": [{"filter": "datum.p === 'g'"}],
  "encoding": {"x": {"field": "t", "type": "ordinal", "scale": {"type": "band", "domain": [6,12,24,36,48,60,72,84,96,120], "paddingInner": 0.25, "paddingOuter": 0.225}, "axis": {"labels": false, "ticks": false, "title": null, "grid": true, "bandPosition": 0.5, "gridWidth": 1.3}},
   "xOffset": {"field": "g", "type": "nominal", "scale": {"type": "band", "domain": ["15.5","18.5"], "paddingInner": 0.1, "paddingOuter": 0.05}}},
  "layer": [
   {"mark": {"type": "rule", "strokeWidth": 1.4}, "encoding": {"y": {"field": "lo", "type": "quantitative", "title": null, "scale": {"domain": [-720, 14800], "nice": false, "zero": false}, "axis": {"values": [0,2500,5000,7500,10000,12500], "labels": false, "ticks": false, "gridWidth": {"condition": {"test": "datum.value % 5000 === 0", "value": 1.3}, "value": 0.7}}}, "y2": {"field": "hi"}, "stroke": {"field": "g", "type": "nominal", "scale": {"domain": ["18.5","15.5"], "range": ["#B22222","#56A8EE"]}, "legend": null}}},
   {"mark": {"type": "bar", "fill": "white", "strokeWidth": 1.4}, "encoding": {"y": {"field": "q1", "type": "quantitative", "title": null}, "y2": {"field": "q3"}, "stroke": {"field": "g", "type": "nominal", "legend": null}}},
   {"mark": {"type": "bar", "fill": "white", "strokeWidth": 2.6}, "encoding": {"y": {"field": "md", "type": "quantitative", "title": null}, "y2": {"field": "md"}, "stroke": {"field": "g", "type": "nominal", "legend": null}}},
   {"data": {"name": "outliers"}, "transform": [{"filter": "datum.p === 'g'"}], "mark": {"type": "point", "filled": true, "size": 38, "opacity": 1}, "encoding": {"y": {"field": "v", "type": "quantitative", "title": null}, "color": {"field": "g", "type": "nominal", "scale": {"domain": ["18.5","15.5"], "range": ["#B22222","#56A8EE"]}, "legend": null}}}
  ]}]},
{"title": {"text": "(h)", "anchor": "start", "frame": "group", "dx": -29, "offset": -17, "fontWeight": "bold", "fontSize": 18.5, "baseline": "alphabetic"},
 "hconcat": [{"width": 275, "height": 130, "title": {"text": "Species = LMB, PPR = High"},
  "data": {"name": "boxes"}, "transform": [{"filter": "datum.p === 'h'"}],
  "encoding": {"x": {"field": "t", "type": "ordinal", "scale": {"type": "band", "domain": [6,12,24,36,48,60,72,84,96,120], "paddingInner": 0.25, "paddingOuter": 0.225}, "axis": {"labels": false, "ticks": false, "title": null, "grid": true, "bandPosition": 0.5, "gridWidth": 1.3}},
   "xOffset": {"field": "g", "type": "nominal", "scale": {"type": "band", "domain": ["15.5","18.5"], "paddingInner": 0.1, "paddingOuter": 0.05}}},
  "layer": [
   {"mark": {"type": "rule", "strokeWidth": 1.4}, "encoding": {"y": {"field": "lo", "type": "quantitative", "title": null, "scale": {"domain": [-720, 14800], "nice": false, "zero": false}, "axis": {"values": [0,2500,5000,7500,10000,12500], "labels": false, "ticks": false, "gridWidth": {"condition": {"test": "datum.value % 5000 === 0", "value": 1.3}, "value": 0.7}}}, "y2": {"field": "hi"}, "stroke": {"field": "g", "type": "nominal", "scale": {"domain": ["18.5","15.5"], "range": ["#B22222","#56A8EE"]}, "legend": null}}},
   {"mark": {"type": "bar", "fill": "white", "strokeWidth": 1.4}, "encoding": {"y": {"field": "q1", "type": "quantitative", "title": null}, "y2": {"field": "q3"}, "stroke": {"field": "g", "type": "nominal", "legend": null}}},
   {"mark": {"type": "bar", "fill": "white", "strokeWidth": 2.6}, "encoding": {"y": {"field": "md", "type": "quantitative", "title": null}, "y2": {"field": "md"}, "stroke": {"field": "g", "type": "nominal", "legend": null}}},
   {"data": {"name": "outliers"}, "transform": [{"filter": "datum.p === 'h'"}], "mark": {"type": "point", "filled": true, "size": 38, "opacity": 1}, "encoding": {"y": {"field": "v", "type": "quantitative", "title": null}, "color": {"field": "g", "type": "nominal", "scale": {"domain": ["18.5","15.5"], "range": ["#B22222","#56A8EE"]}, "legend": null}}}
  ]}]}
]},
{"spacing": 14, "hconcat": [
{"title": {"text": "(i)", "anchor": "start", "frame": "group", "dx": -96, "offset": -17, "fontWeight": "bold", "fontSize": 18.5, "baseline": "alphabetic"},
 "hconcat": [{"width": 275, "height": 130, "title": {"text": "PPR = Low, Temp = 15.5"},
  "data": {"name": "boxes"}, "transform": [{"filter": "datum.p === 'i'"}],
  "encoding": {"x": {"field": "t", "type": "ordinal", "scale": {"type": "band", "domain": [6,12,24,36,48,60,72,84,96,120], "paddingInner": 0.25, "paddingOuter": 0.225}, "axis": {"title": "Time Post-Ingestion", "titlePadding": 4, "grid": true, "bandPosition": 0.5, "gridWidth": 1.3, "labelAngle": 0}},
   "xOffset": {"field": "g", "type": "nominal", "scale": {"type": "band", "domain": ["CCF","LMB"], "paddingInner": 0.1, "paddingOuter": 0.05}}},
  "layer": [
   {"mark": {"type": "rule", "strokeWidth": 1.4}, "encoding": {"y": {"field": "lo", "type": "quantitative", "title": null, "scale": {"domain": [-810, 16950], "nice": false, "zero": false}, "axis": {"values": [0,2500,5000,7500,10000,12500,15000], "labelExpr": "datum.value % 5000 === 0 ? (datum.value >= 10000 ? format(datum.value, ',') : format(datum.value, 'd')) : ''", "tickOpacity": {"condition": {"test": "datum.value % 5000 === 0", "value": 1}, "value": 0}, "gridWidth": {"condition": {"test": "datum.value % 5000 === 0", "value": 1.3}, "value": 0.7}}}, "y2": {"field": "hi"}, "stroke": {"field": "g", "type": "nominal", "scale": {"domain": ["LMB","CCF"], "range": ["#000000","#D2691E"]}, "legend": null}}},
   {"mark": {"type": "bar", "fill": "white", "strokeWidth": 1.4}, "encoding": {"y": {"field": "q1", "type": "quantitative", "title": null}, "y2": {"field": "q3"}, "stroke": {"field": "g", "type": "nominal", "legend": null}}},
   {"mark": {"type": "bar", "fill": "white", "strokeWidth": 2.6}, "encoding": {"y": {"field": "md", "type": "quantitative", "title": null}, "y2": {"field": "md"}, "stroke": {"field": "g", "type": "nominal", "legend": null}}},
   {"data": {"name": "outliers"}, "transform": [{"filter": "datum.p === 'i'"}], "mark": {"type": "point", "filled": true, "size": 38, "opacity": 1}, "encoding": {"y": {"field": "v", "type": "quantitative", "title": null}, "color": {"field": "g", "type": "nominal", "scale": {"domain": ["LMB","CCF"], "range": ["#000000","#D2691E"]}, "legend": null}}}
  ]}]},
{"title": {"text": "(j)", "anchor": "start", "frame": "group", "dx": -29, "offset": -17, "fontWeight": "bold", "fontSize": 18.5, "baseline": "alphabetic"},
 "hconcat": [{"width": 275, "height": 130, "title": {"text": "PPR = Low, Temp = 18.5"},
  "data": {"name": "boxes"}, "transform": [{"filter": "datum.p === 'j'"}],
  "encoding": {"x": {"field": "t", "type": "ordinal", "scale": {"type": "band", "domain": [6,12,24,36,48,60,72,84,96,120], "paddingInner": 0.25, "paddingOuter": 0.225}, "axis": {"title": null, "grid": true, "bandPosition": 0.5, "gridWidth": 1.3, "labelAngle": 0}},
   "xOffset": {"field": "g", "type": "nominal", "scale": {"type": "band", "domain": ["CCF","LMB"], "paddingInner": 0.1, "paddingOuter": 0.05}}},
  "layer": [
   {"mark": {"type": "rule", "strokeWidth": 1.4}, "encoding": {"y": {"field": "lo", "type": "quantitative", "title": null, "scale": {"domain": [-810, 16950], "nice": false, "zero": false}, "axis": {"values": [0,2500,5000,7500,10000,12500,15000], "labels": false, "ticks": false, "gridWidth": {"condition": {"test": "datum.value % 5000 === 0", "value": 1.3}, "value": 0.7}}}, "y2": {"field": "hi"}, "stroke": {"field": "g", "type": "nominal", "scale": {"domain": ["LMB","CCF"], "range": ["#000000","#D2691E"]}, "legend": null}}},
   {"mark": {"type": "bar", "fill": "white", "strokeWidth": 1.4}, "encoding": {"y": {"field": "q1", "type": "quantitative", "title": null}, "y2": {"field": "q3"}, "stroke": {"field": "g", "type": "nominal", "legend": null}}},
   {"mark": {"type": "bar", "fill": "white", "strokeWidth": 2.6}, "encoding": {"y": {"field": "md", "type": "quantitative", "title": null}, "y2": {"field": "md"}, "stroke": {"field": "g", "type": "nominal", "legend": null}}},
   {"data": {"name": "outliers"}, "transform": [{"filter": "datum.p === 'j'"}], "mark": {"type": "point", "filled": true, "size": 38, "opacity": 1}, "encoding": {"y": {"field": "v", "type": "quantitative", "title": null}, "color": {"field": "g", "type": "nominal", "scale": {"domain": ["LMB","CCF"], "range": ["#000000","#D2691E"]}, "legend": null}}}
  ]}]},
{"title": {"text": "(k)", "anchor": "start", "frame": "group", "dx": -29, "offset": -17, "fontWeight": "bold", "fontSize": 18.5, "baseline": "alphabetic"},
 "hconcat": [{"width": 275, "height": 130, "title": {"text": "PPR = High, Temp = 15.5"},
  "data": {"name": "boxes"}, "transform": [{"filter": "datum.p === 'k'"}],
  "encoding": {"x": {"field": "t", "type": "ordinal", "scale": {"type": "band", "domain": [6,12,24,36,48,60,72,84,96,120], "paddingInner": 0.25, "paddingOuter": 0.225}, "axis": {"title": null, "grid": true, "bandPosition": 0.5, "gridWidth": 1.3, "labelAngle": 0}},
   "xOffset": {"field": "g", "type": "nominal", "scale": {"type": "band", "domain": ["CCF","LMB"], "paddingInner": 0.1, "paddingOuter": 0.05}}},
  "layer": [
   {"mark": {"type": "rule", "strokeWidth": 1.4}, "encoding": {"y": {"field": "lo", "type": "quantitative", "title": null, "scale": {"domain": [-810, 16950], "nice": false, "zero": false}, "axis": {"values": [0,2500,5000,7500,10000,12500,15000], "labels": false, "ticks": false, "gridWidth": {"condition": {"test": "datum.value % 5000 === 0", "value": 1.3}, "value": 0.7}}}, "y2": {"field": "hi"}, "stroke": {"field": "g", "type": "nominal", "scale": {"domain": ["LMB","CCF"], "range": ["#000000","#D2691E"]}, "legend": null}}},
   {"mark": {"type": "bar", "fill": "white", "strokeWidth": 1.4}, "encoding": {"y": {"field": "q1", "type": "quantitative", "title": null}, "y2": {"field": "q3"}, "stroke": {"field": "g", "type": "nominal", "legend": null}}},
   {"mark": {"type": "bar", "fill": "white", "strokeWidth": 2.6}, "encoding": {"y": {"field": "md", "type": "quantitative", "title": null}, "y2": {"field": "md"}, "stroke": {"field": "g", "type": "nominal", "legend": null}}},
   {"data": {"name": "outliers"}, "transform": [{"filter": "datum.p === 'k'"}], "mark": {"type": "point", "filled": true, "size": 38, "opacity": 1}, "encoding": {"y": {"field": "v", "type": "quantitative", "title": null}, "color": {"field": "g", "type": "nominal", "scale": {"domain": ["LMB","CCF"], "range": ["#000000","#D2691E"]}, "legend": null}}}
  ]}]},
{"title": {"text": "(l)", "anchor": "start", "frame": "group", "dx": -29, "offset": -17, "fontWeight": "bold", "fontSize": 18.5, "baseline": "alphabetic"},
 "hconcat": [{"width": 275, "height": 130, "title": {"text": "PPR = High, Temp = 18.5"},
  "data": {"name": "boxes"}, "transform": [{"filter": "datum.p === 'l'"}],
  "encoding": {"x": {"field": "t", "type": "ordinal", "scale": {"type": "band", "domain": [6,12,24,36,48,60,72,84,96,120], "paddingInner": 0.25, "paddingOuter": 0.225}, "axis": {"title": null, "grid": true, "bandPosition": 0.5, "gridWidth": 1.3, "labelAngle": 0}},
   "xOffset": {"field": "g", "type": "nominal", "scale": {"type": "band", "domain": ["CCF","LMB"], "paddingInner": 0.1, "paddingOuter": 0.05}}},
  "layer": [
   {"mark": {"type": "rule", "strokeWidth": 1.4}, "encoding": {"y": {"field": "lo", "type": "quantitative", "title": null, "scale": {"domain": [-810, 16950], "nice": false, "zero": false}, "axis": {"values": [0,2500,5000,7500,10000,12500,15000], "labels": false, "ticks": false, "gridWidth": {"condition": {"test": "datum.value % 5000 === 0", "value": 1.3}, "value": 0.7}}}, "y2": {"field": "hi"}, "stroke": {"field": "g", "type": "nominal", "scale": {"domain": ["LMB","CCF"], "range": ["#000000","#D2691E"]}, "legend": null}}},
   {"mark": {"type": "bar", "fill": "white", "strokeWidth": 1.4}, "encoding": {"y": {"field": "q1", "type": "quantitative", "title": null}, "y2": {"field": "q3"}, "stroke": {"field": "g", "type": "nominal", "legend": null}}},
   {"mark": {"type": "bar", "fill": "white", "strokeWidth": 2.6}, "encoding": {"y": {"field": "md", "type": "quantitative", "title": null}, "y2": {"field": "md"}, "stroke": {"field": "g", "type": "nominal", "legend": null}}},
   {"data": {"name": "outliers"}, "transform": [{"filter": "datum.p === 'l'"}], "mark": {"type": "point", "filled": true, "size": 38, "opacity": 1}, "encoding": {"y": {"field": "v", "type": "quantitative", "title": null}, "color": {"field": "g", "type": "nominal", "scale": {"domain": ["LMB","CCF"], "range": ["#000000","#D2691E"]}, "legend": null}}}
  ]}]}
]},
{"spacing": 34, "resolve": {"scale": {"color": "independent"}, "legend": {"color": "independent"}}, "hconcat": [
 {"width": 192, "height": 1, "view": {"stroke": null}, "data": {"values": [{"g": "Low"}, {"g": "High"}]}, "mark": {"type": "point", "opacity": 0}, "encoding": {"color": {"field": "g", "type": "nominal", "scale": {"domain": ["Low","High"], "range": ["#E9967A","#8FBC8F"]}, "legend": {"title": "PPR"}}}},
 {"width": 1, "height": 1, "view": {"stroke": null}, "data": {"values": [{"g": "18.5"}, {"g": "15.5"}]}, "mark": {"type": "point", "opacity": 0}, "encoding": {"color": {"field": "g", "type": "nominal", "scale": {"domain": ["18.5","15.5"], "range": ["#B22222","#56A8EE"]}, "legend": {"title": "Temperature"}}}},
 {"width": 1, "height": 1, "view": {"stroke": null}, "data": {"values": [{"g": "LMB"}, {"g": "CCF"}]}, "mark": {"type": "point", "opacity": 0}, "encoding": {"color": {"field": "g", "type": "nominal", "scale": {"domain": ["LMB","CCF"], "range": ["#000000","#D2691E"]}, "legend": {"title": "Species"}}}}
]}
],
"config": {
 "font": "Liberation Sans",
 "view": {"stroke": "#333333", "strokeWidth": 1.1},
 "axis": {"gridColor": "#EBEBEB", "domainColor": "#333333", "domainWidth": 1.2, "tickColor": "#333333", "tickWidth": 1.1, "tickSize": 5.5, "labelFont": "Liberation Sans", "labelFontSize": 16.5, "labelColor": "#4D4D4D", "labelPadding": 2.5, "titleFont": "Liberation Sans", "titleFontSize": 20.5, "titleFontWeight": "normal", "titleColor": "#000000"},
 "title": {"font": "Liberation Sans", "fontSize": 19, "fontWeight": "normal", "color": "#000000", "anchor": "start", "frame": "group", "baseline": "alphabetic", "offset": 6.5},
 "legend": {"orient": "right", "direction": "horizontal", "titleOrient": "left", "offset": 0, "padding": 4, "titleFont": "Liberation Sans", "titleFontSize": 20, "titleFontWeight": "normal", "titleColor": "#000000", "labelFont": "Liberation Sans", "labelFontSize": 16.5, "labelColor": "#000000", "symbolType": "M0,-1V-0.45M-0.8,-0.45H0.8V0.45H-0.8ZM-0.8,0H0.8M0,0.45V1", "symbolSize": 400, "symbolStrokeWidth": 1.5, "symbolOpacity": 1, "columnPadding": 33, "titlePadding": 15, "labelOffset": 6}
}
}
